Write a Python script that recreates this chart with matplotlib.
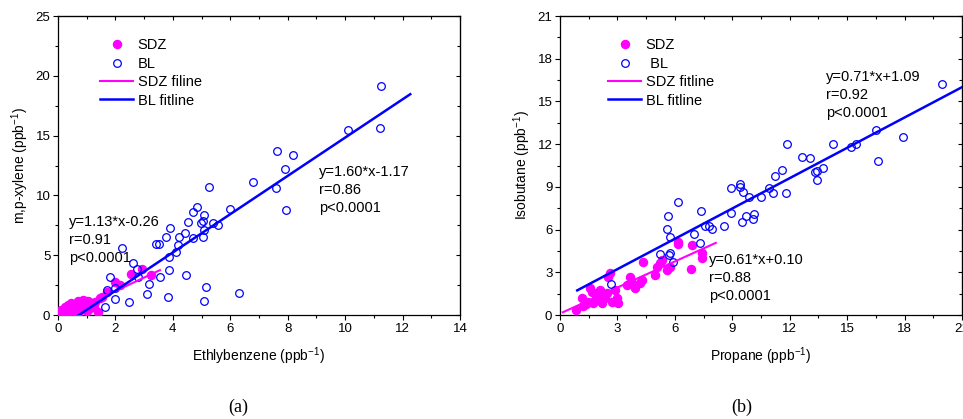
import matplotlib
matplotlib.use('Agg')
import matplotlib.pyplot as plt
import numpy as np
from matplotlib.ticker import MultipleLocator

plt.rcParams['font.family'] = ['Liberation Sans', 'DejaVu Sans']
plt.rcParams['mathtext.fontset'] = 'custom'
plt.rcParams['mathtext.rm'] = 'Liberation Sans'
plt.rcParams['mathtext.it'] = 'Liberation Sans:italic'
plt.rcParams['mathtext.default'] = 'regular'

# ---------------- data (a) ----------------
sdz_a_x = [0.02, 0.08, 0.12, 0.18, 0.23, 0.28, 0.35, 0.40, 0.46, 0.52,
           0.58, 0.64, 0.70, 0.76, 0.82, 0.87, 0.92, 0.97, 1.03, 1.08,
           1.15, 1.22, 1.30, 1.38, 1.46, 1.55, 1.70, 2.00, 2.16, 2.54,
           2.91, 3.23, 0.42, 0.70, 1.00, 0.30, 0.60, 0.88, 1.12, 0.50,
           0.91, 0.15, 1.25]
sdz_a_y = [0.05, 0.25, 0.45, 0.30, 0.70, 0.55, 0.86, 0.60, 1.00, 0.70,
           0.72, 0.95, 1.14, 0.80, 1.00, 1.28, 0.86, 1.20, 1.14, 0.90,
           1.00, 0.85, 1.10, 0.22, 1.45, 1.50, 1.90, 2.76, 2.50, 3.40,
           3.82, 3.32, 0.31, 0.17, 0.30, 0.15, 0.40, 0.50, 0.60, 0.20,
           1.17, 0.12, 0.70]
bl_a_x = [11.25, 10.11, 11.20, 7.64, 8.17, 7.91, 6.78, 7.60, 5.26, 7.95,
          5.99, 4.85, 4.70, 5.10, 5.05, 4.98, 4.54, 5.41, 5.56, 3.89,
          4.42, 3.75, 4.20, 4.69, 5.04, 5.08, 4.17, 3.40, 3.53, 4.11,
          2.24, 3.88, 2.62, 2.75, 3.85, 4.45, 3.56, 1.81, 3.17, 5.17,
          1.99, 1.70, 3.10, 6.32, 3.83, 2.00, 2.47, 5.10, 1.64, 2.80]
bl_a_y = [19.12, 15.50, 15.61, 13.74, 13.38, 12.21, 11.12, 10.65, 10.70, 8.75,
          8.89, 9.03, 8.58, 8.36, 7.89, 7.66, 7.78, 7.72, 7.55, 7.27,
          6.86, 6.49, 6.49, 6.44, 6.52, 7.11, 5.88, 5.96, 5.96, 5.30,
          5.60, 4.82, 4.32, 3.82, 3.73, 3.37, 3.15, 3.15, 2.56, 2.31,
          2.26, 2.06, 1.78, 1.87, 1.48, 1.34, 1.09, 1.20, 0.67, 3.20]
fit_a_sdz = (1.13, -0.26)
fit_a_sdz_range = (0.0, 3.55)
fit_a_bl = (1.60, -1.17)
fit_a_bl_range = (0.6, 12.27)

# ---------------- data (b) ----------------
sdz_b_x = [0.84, 1.13, 1.22, 1.57, 1.65, 1.48, 1.74, 2.00, 2.09, 2.18,
           2.35, 2.44, 2.61, 2.53, 2.70, 2.87, 2.96, 3.05, 3.48, 3.66,
           3.74, 3.92, 4.18, 4.35, 4.27, 4.96, 5.05, 5.22, 5.31, 5.57,
           5.75, 6.18, 6.18, 6.88, 6.84, 7.40, 7.40, 1.90, 2.25, 1.35]
sdz_b_y = [0.35, 1.17, 0.66, 1.87, 1.59, 0.94, 0.82, 1.05, 1.75, 0.82,
           1.17, 1.52, 2.92, 2.69, 0.94, 1.75, 1.17, 0.82, 2.10, 2.69,
           2.22, 1.87, 2.22, 3.75, 2.46, 2.81, 3.40, 3.63, 3.87, 3.17,
           3.40, 5.15, 4.96, 4.92, 3.21, 4.33, 3.98, 1.30, 1.40, 0.75]
bl_b_x = [19.95, 16.49, 17.92, 16.61, 15.18, 15.48, 14.26, 11.85, 12.65, 13.05,
          13.72, 13.33, 13.45, 13.42, 11.62, 11.21, 10.91, 11.15, 11.83, 10.49,
          9.88, 9.57, 9.41, 9.43, 8.91, 8.91, 9.72, 10.14, 10.07, 9.52,
          8.57, 7.93, 7.79, 7.56, 7.39, 6.17, 5.65, 5.61, 5.77, 7.01,
          7.34, 5.75, 5.72, 5.23, 5.93, 2.67]
bl_b_y = [16.25, 13.02, 12.48, 10.84, 11.80, 11.99, 12.03, 12.01, 11.12, 11.00,
          10.33, 10.07, 10.09, 9.48, 10.18, 9.79, 8.92, 8.59, 8.57, 8.29,
          8.27, 8.64, 9.18, 8.97, 8.90, 7.14, 6.95, 7.07, 6.72, 6.56,
          6.23, 6.02, 6.27, 6.27, 7.31, 7.96, 6.93, 6.02, 5.46, 5.71,
          5.03, 4.38, 4.24, 4.28, 3.70, 2.15]
fit_b_sdz = (0.61, 0.10)
fit_b_sdz_range = (0.15, 8.14)
fit_b_bl = (0.71, 1.09)
fit_b_bl_range = (0.9, 21.0)

PINK = '#FF00FF'
BLUE = '#0000FF'

fig = plt.figure(figsize=(9.63, 4.19), dpi=100)
ax1 = fig.add_axes([0.0602, 0.2482, 0.4174, 0.7136])
ax2 = fig.add_axes([0.5815, 0.2482, 0.4174, 0.7136])


def style(ax, xmax, xmaj, ymax, ymaj):
    ax.set_xlim(0, xmax)
    ax.set_ylim(0, ymax)
    ax.xaxis.set_major_locator(MultipleLocator(xmaj))
    ax.xaxis.set_minor_locator(MultipleLocator(xmaj / 2))
    ax.yaxis.set_major_locator(MultipleLocator(ymaj))
    ax.yaxis.set_minor_locator(MultipleLocator(ymaj / 2))
    ax.tick_params(which='major', direction='out', length=3.5, width=0.8,
                   labelsize=9.5, pad=2)
    ax.tick_params(which='minor', direction='out', length=2, width=0.8)
    for s in ax.spines.values():
        s.set_linewidth(0.9)
    for where in ('top', 'right'):
        if where == 'top':
            sec = ax.secondary_xaxis('top')
            sec.xaxis.set_major_locator(MultipleLocator(xmaj))
            sec.xaxis.set_minor_locator(MultipleLocator(xmaj / 2))
        else:
            sec = ax.secondary_yaxis('right')
            sec.yaxis.set_major_locator(MultipleLocator(ymaj))
            sec.yaxis.set_minor_locator(MultipleLocator(ymaj / 2))
        sec.tick_params(which='major', direction='in', length=3, width=0.8,
                        labeltop=False, labelright=False)
        sec.tick_params(which='minor', direction='in', length=2, width=0.8)


def panel(ax, sx, sy, bx, by, fs, fsr, fb, fbr, labels):
    ax.plot(sx, sy, 'o', color=PINK, ms=5.8, mec=PINK, label=labels[0],
            zorder=3)
    ax.plot(bx, by, 'o', mfc='none', mec=BLUE, ms=5.5, mew=0.9,
            label=labels[1], zorder=4)
    xs = np.array(fsr)
    ax.plot(xs, fs[0] * xs + fs[1], '-', color=PINK, lw=1.5,
            label=labels[2], zorder=5)
    xb = np.array(fbr)
    ax.plot(xb, fb[0] * xb + fb[1], '-', color=BLUE, lw=1.8,
            label=labels[3], zorder=5)


panel(ax1, sdz_a_x, sdz_a_y, bl_a_x, bl_a_y, fit_a_sdz, fit_a_sdz_range,
      fit_a_bl, fit_a_bl_range, ['SDZ', 'BL', 'SDZ filine', 'BL fitline'])
panel(ax2, sdz_b_x, sdz_b_y, bl_b_x, bl_b_y, fit_b_sdz, fit_b_sdz_range,
      fit_b_bl, fit_b_bl_range, ['SDZ', ' BL', 'SDZ fitline', 'BL fitline'])

style(ax1, 14, 2, 25, 5)
style(ax2, 21, 3, 21, 3)

for ax, anchor in ((ax1, (0.104, 0.925)), (ax2, (0.119, 0.925))):
    ax.legend(loc='upper left', bbox_to_anchor=anchor, frameon=False,
              fontsize=10.5, handlelength=2.3, handletextpad=0.3,
              labelspacing=0.3, borderpad=0, borderaxespad=0)

ax1.set_xlabel('Ethlybenzene (ppb$^{-1}$)', fontsize=10, labelpad=8)
ax1.set_ylabel('m,p-xylene (ppb$^{-1}$)', fontsize=10, labelpad=3)
ax2.set_xlabel('Propane (ppb$^{-1}$)', fontsize=10, labelpad=8)
ax2.set_ylabel('Isobutane (ppb$^{-1}$)', fontsize=10, labelpad=3)


def stats(ax, x, y, lines):
    # x, y: data coords of left/center of first line; 18 px line step
    trans = ax.transData
    px0, py0 = trans.transform((x, y))
    for i, t in enumerate(lines):
        xx, yy = trans.inverted().transform((px0, py0 - 18 * i))
        ax.text(xx, yy, t, fontsize=10.5, va='center', ha='left', zorder=6)


stats(ax1, 9.09, 11.96, ['y=1.60*x-1.17', 'r=0.86', 'p<0.0001'])
stats(ax1, 0.38, 7.78, ['y=1.13*x-0.26', 'r=0.91', 'p<0.0001'])
stats(ax2, 13.9, 16.71, ['y=0.71*x+1.09', 'r=0.92', 'p<0.0001'])
stats(ax2, 7.78, 3.86, ['y=0.61*x+0.10', 'r=0.88', 'p<0.0001'])

fig.text(238 / 963, 1 - 407 / 419, '(a)', fontsize=13,
         family='Liberation Serif', ha='center', va='center')
fig.text(742 / 963, 1 - 407 / 419, '(b)', fontsize=13,
         family='Liberation Serif', ha='center', va='center')

fig.savefig('out.png', dpi=100)
